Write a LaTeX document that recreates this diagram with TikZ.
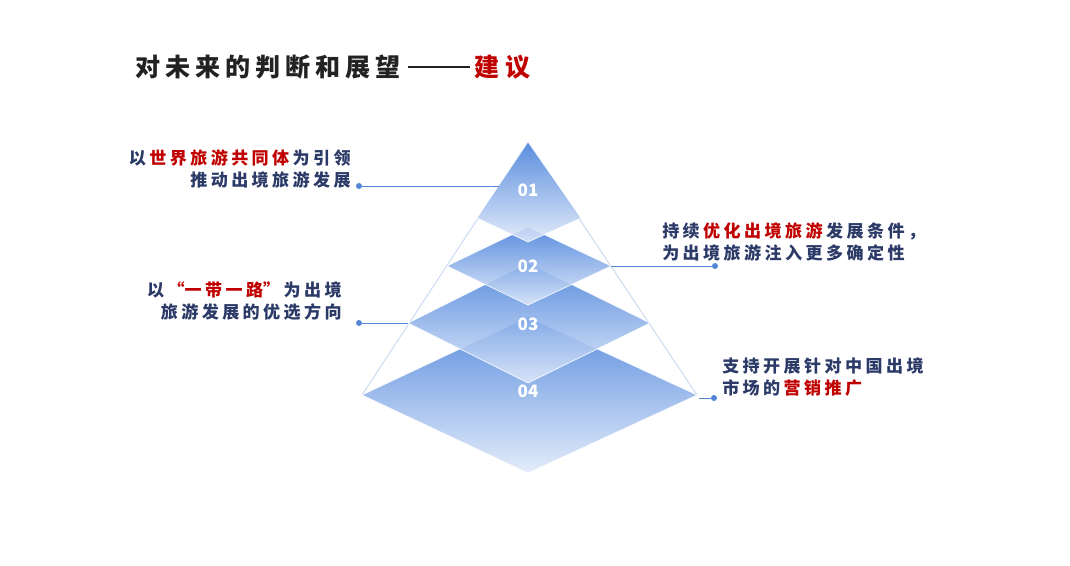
\documentclass[tikz,border=0pt]{standalone}
\usepackage{fontspec}
\usepackage{xcolor}
\usepackage{tikz}
\usetikzlibrary{arrows.meta, positioning, calc}
\setmainfont{Noto Sans CJK SC}[LetterSpace=20]
\newfontfamily\numfont{Noto Sans CJK SC}
\newcommand\gap{\kern0.2em}
\newcommand\wide[1]{{\addfontfeatures{RawFeature=+fwid}#1}}
\newcommand\longdash{\kern0.3em\rule[0.32em]{2.45em}{0.11em}\kern0.2em}
\definecolor{navy}{RGB}{43,58,103}
\definecolor{accent}{RGB}{192,0,0}
\definecolor{heading}{RGB}{34,34,34}
\definecolor{layerblue}{RGB}{68,126,218}
\definecolor{layermid}{RGB}{115,158,229}
\definecolor{layerpale}{RGB}{224,234,250}
\definecolor{rim}{RGB}{208,222,243}
\definecolor{pin}{RGB}{84,134,214}
\tikzset{
    layer/.style={
        top color=layerblue,
        middle color=layermid,
        bottom color=layerpale,
        draw=white,
        line width=0.5pt,
        fill opacity=0.88,
        draw opacity=0.9
    },
    rimline/.style={draw=rim, line width=0.8pt},
    link/.style={draw=pin, line width=0.6pt},
    dot/.style={circle, fill=pin, inner sep=0pt, minimum size=4.5pt}
}

\begin{document}
\begin{tikzpicture}[
    x=0.75pt, y=-0.75pt,
    tag/.style={
        font=\numfont\fontsize{12.8}{14}\selectfont\bfseries,
        text=white,
        inner sep=1pt
    },
    note/.style={
        font=\fontsize{12.8}{16.5}\selectfont\bfseries,
        text=navy,
        inner sep=0pt
    },
    leftnote/.style={note, align=right, anchor=east},
    rightnote/.style={note, align=left, anchor=west},
    headline/.style={
        font=\fontsize{18.8}{22}\selectfont\bfseries,
        text=heading,
        anchor=west,
        inner sep=0pt
    }
]

\fill[white] (0,0) rectangle (1070,566);
\useasboundingbox (0,0) rectangle (1070,566);

\node[headline] (title) at (135,67) {对未来的判断和展望\longdash\textcolor{accent}{建议}};

\coordinate (apex) at (528,142);
\coordinate (L4) at (362,395);
\coordinate (R4) at (697,395);
\coordinate (T4) at (528,317);
\coordinate (B4) at (528,473);
\coordinate (L3) at (408,323);
\coordinate (R3) at (650,323);
\coordinate (T3) at (528,263);
\coordinate (B3) at (528,383);
\coordinate (L2) at (447,266);
\coordinate (R2) at (611,266);
\coordinate (T2) at (528,227);
\coordinate (B2) at (528,305);
\coordinate (L1) at (477,218);
\coordinate (R1) at (581,218);
\coordinate (B1) at (528,242);

\draw[rimline] (L4) -- (apex) -- (R4);

\shade[layer] (L4) -- (T4) -- (R4) -- (B4) -- cycle;
\shade[layer] (L3) -- (T3) -- (R3) -- (B3) -- cycle;
\shade[layer] (L2) -- (T2) -- (R2) -- (B2) -- cycle;
\shade[layer] (L1) -- (apex) -- (R1) -- (B1) -- cycle;

\node[tag] (n1) at (528,190) {01};
\node[tag] (n2) at (528,266) {02};
\node[tag] (n3) at (528,324) {03};
\node[tag] (n4) at (528,391) {04};

\node[dot] (p1) at (359,186) {};
\node[dot] (p2) at (715,266) {};
\node[dot] (p3) at (359,323) {};
\node[dot] (p4) at (714,398) {};
\coordinate (e1) at (499,186);
\coordinate (e4) at (699,398);

\draw[link] (p1) -- (e1);
\draw[link] (R2) -- (p2);
\draw[link] (p3) -- (L3);
\draw[link] (e4) -- (p4);

\node[leftnote] (t1) at (351,169) {以\gap\textcolor{accent}{世界旅游共同体}\gap 为引领\\推动出境旅游发展};
\node[leftnote] (t3) at (342,301) {以\gap\textcolor{accent}{\wide{“}一带一路\wide{”}}\gap 为出境\\旅游发展的优选方向};
\node[rightnote] (t2) at (662,242) {持续\gap\textcolor{accent}{优化出境旅游}\gap 发展条件，\\为出境旅游注入更多确定性};
\node[rightnote] (t4) at (722,377) {支持开展针对中国出境\\市场的\gap\textcolor{accent}{营销推广}};

\end{tikzpicture}
\end{document}
